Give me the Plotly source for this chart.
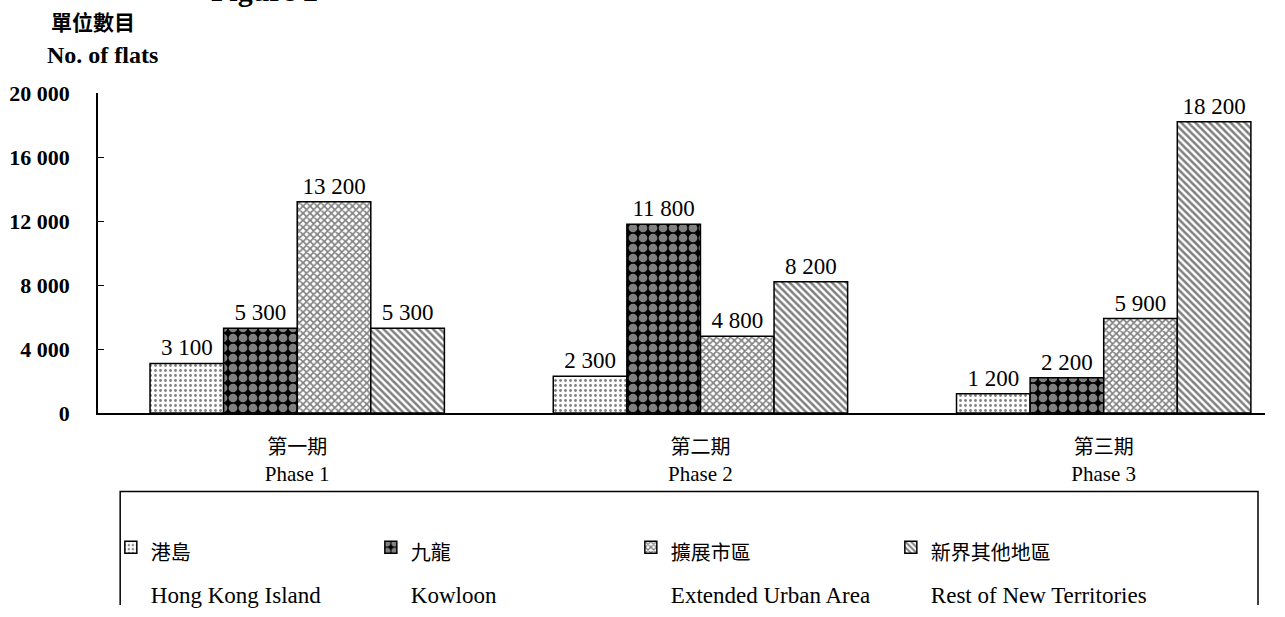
import plotly.graph_objects as go

# Public housing flats by district and phase
phases_zh = ["第一期", "第二期", "第三期"]
phases_en = ["Phase 1", "Phase 2", "Phase 3"]
districts_zh = ["港島", "九龍", "擴展市區", "新界其他地區"]
districts_en = ["Hong Kong Island", "Kowloon", "Extended Urban Area", "Rest of New Territories"]

hk_island = [3100, 2300, 1200]
kowloon = [5300, 11800, 2200]
extended_urban = [13200, 4800, 5900]
rest_nt = [5300, 8200, 18200]

y_ticks = [0, 4000, 8000, 12000, 16000, 20000]

SERIF = "Liberation Serif, Times New Roman, Noto Sans CJK TC, serif"
CJK = "Noto Sans CJK TC, Liberation Serif, serif"


def spaced(v):
    return f"{v:,}".replace(",", " ")


series = [hk_island, kowloon, extended_urban, rest_nt]
patterns = [
    dict(shape=".", bgcolor="white", fgcolor="black", size=5, solidity=0.25),
    dict(shape=".", bgcolor="black", fgcolor="white", size=10, solidity=0.6),
    dict(shape="x", bgcolor="white", fgcolor="black", size=5, solidity=0.55),
    dict(shape="\\", bgcolor="white", fgcolor="black", size=5, solidity=0.5),
]

x_pos = list(range(len(phases_en)))

fig = go.Figure()
for vals, zh, en, pat in zip(series, districts_zh, districts_en, patterns):
    fig.add_trace(go.Bar(
        x=x_pos,
        y=vals,
        name=(f"<span style='font-family:{CJK};font-size:20px'>{zh}</span><br>"
              f"<span style='font-size:23px'>{en}</span>"),
        marker=dict(color="white", line=dict(color="black", width=1.5), pattern=pat),
        text=[spaced(v) for v in vals],
        textposition="outside",
        textfont=dict(family=SERIF, size=23, color="black"),
        cliponaxis=False,
    ))

fig.update_layout(
    width=1285,
    height=617,
    margin=dict(l=98, r=20, t=93, b=204, autoexpand=False),
    paper_bgcolor="white",
    plot_bgcolor="white",
    barmode="group",
    bargap=0.27,
    bargroupgap=0,
    font=dict(family=SERIF, size=20, color="black"),
    showlegend=True,
    legend=dict(
        orientation="h",
        x=0.011,
        y=-0.332,
        xanchor="left",
        yanchor="top",
        entrywidth=215,
        valign="top",
        # large base size widens the gap between the two label lines
        font=dict(family=SERIF, size=33, color="black"),
        bgcolor="rgba(0,0,0,0)",
        borderwidth=0,
        traceorder="normal",
    ),
    xaxis=dict(
        range=[-0.494, 2.40],
        tickmode="array",
        tickvals=x_pos,
        ticktext=[f"<span style='font-family:{CJK};font-size:20px'>{z}</span><br>{e}"
                  for z, e in zip(phases_zh, phases_en)],
        tickfont=dict(family=SERIF, size=21, color="black"),
        showline=True,
        linecolor="black",
        linewidth=1.5,
        ticks="",
        showgrid=False,
        zeroline=False,
        ticklabelstandoff=14,
    ),
    yaxis=dict(
        range=[0, 20000],
        tickmode="array",
        tickvals=y_ticks,
        ticktext=[f"<b>{spaced(v)}</b>" for v in y_ticks],
        tickfont=dict(family=SERIF, size=22, color="black"),
        showline=True,
        linecolor="black",
        linewidth=1.5,
        ticks="inside",
        ticklen=6,
        tickcolor="black",
        showgrid=False,
        zeroline=False,
        ticklabelstandoff=22,
    ),
    annotations=[
        dict(
            text="<b>單位數目</b>",
            xref="paper", yref="paper", x=-0.004, y=1.225,
            xanchor="center", yanchor="middle", showarrow=False,
            font=dict(family=CJK, size=21, color="black"),
        ),
        dict(
            text="<b>No. of flats</b>",
            xref="paper", yref="paper", x=0.0035, y=1.12,
            xanchor="center", yanchor="middle", showarrow=False,
            font=dict(family=SERIF, size=24, color="black"),
        ),
        dict(
            text="<b>Figure 2</b>",
            xref="paper", yref="paper", x=0.095,
            y=1.262,
            xanchor="left", yanchor="bottom", showarrow=False,
            font=dict(family=SERIF, size=30, color="black"),
        ),
    ],
    shapes=[
        # open-bottomed frame around the legend
        dict(
            type="path",
            xref="paper", yref="paper",
            path="M 0.019 -0.6 L 0.019 -0.245 L 0.994 -0.245 L 0.994 -0.6",
            line=dict(color="black", width=1.5),
            layer="above",
        ),
    ],
)

fig.write_html("out.html")
